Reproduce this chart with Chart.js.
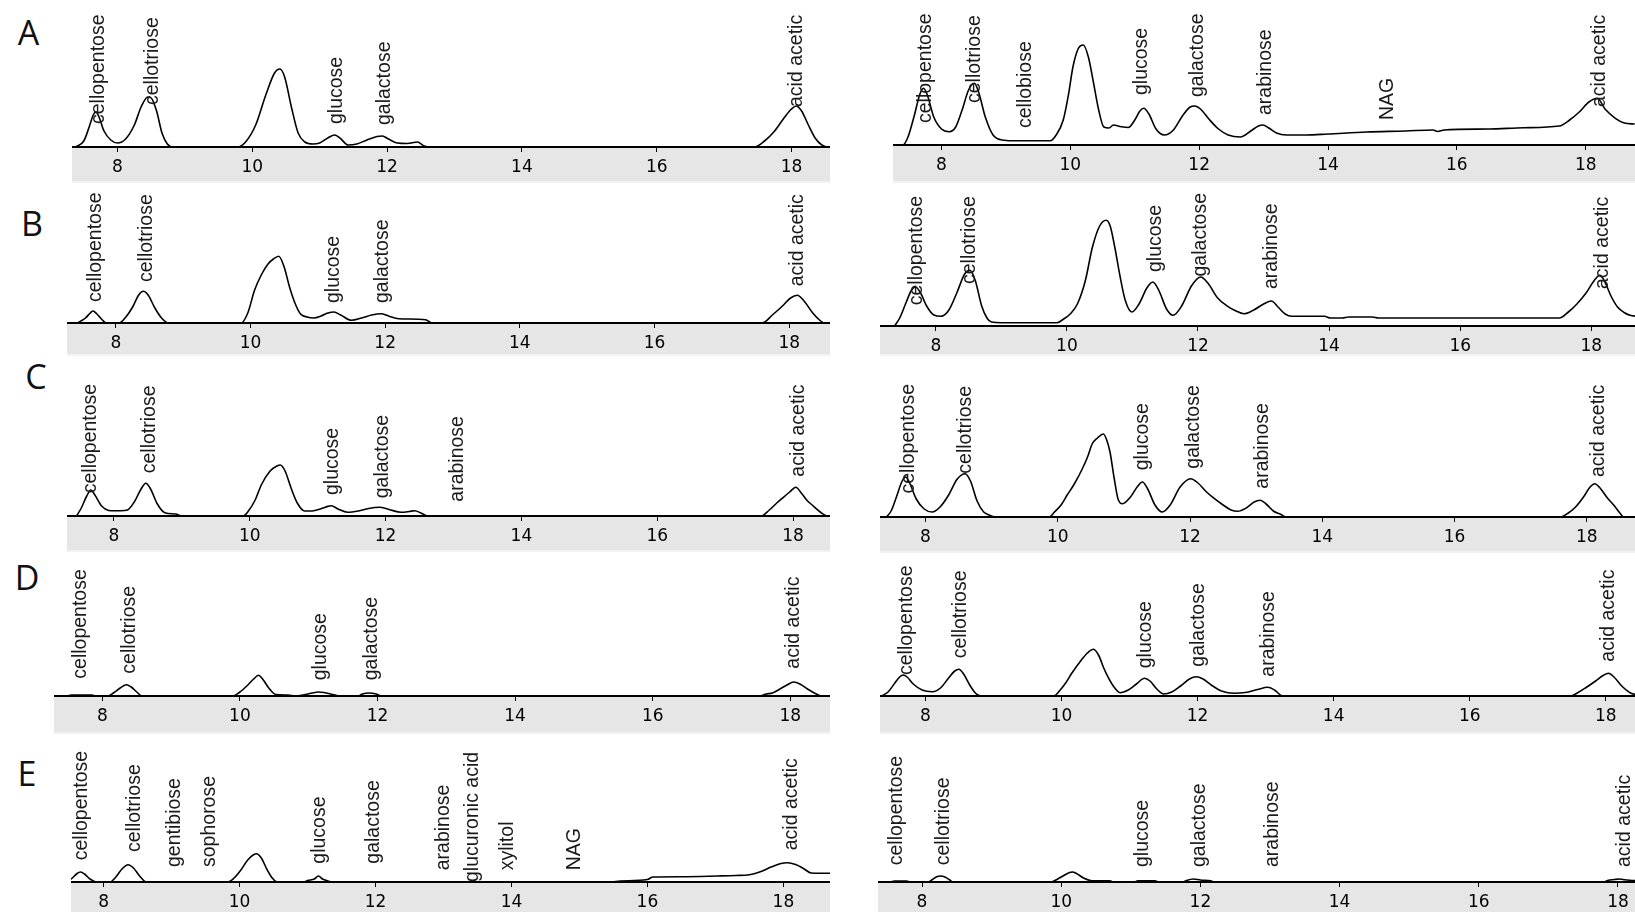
<!DOCTYPE html>
<html><head><meta charset="utf-8">
<script src="https://cdn.jsdelivr.net/npm/chart.js@4.4.1/dist/chart.umd.min.js"></script>
<style>
html,body{margin:0;padding:0;background:#fff;width:1635px;height:912px;overflow:hidden;position:relative}
canvas{position:absolute}
.letter{position:absolute;width:40px;text-align:center;font-family:"Open Sans",sans-serif;font-size:34px;line-height:34px;color:#111}
</style></head><body>
<script>
// ---------- data ----------
const xTicks = [8, 10, 12, 14, 16, 18];
const rowLetters = ['A', 'B', 'C', 'D', 'E'];

// traces: [retention time (min), signal height]
const traceA1 = [[7.38,0],[7.50,6],[7.58,20],[7.64,32],[7.68,35],[7.72,31],[7.80,16],[7.90,7],[8.00,4],[8.12,8],[8.25,22],[8.35,40],[8.45,50],[8.50,49],[8.58,36],[8.66,14],[8.74,3],[8.82,0],[9.78,0],[9.90,5],[10.05,22],[10.20,52],[10.33,74],[10.41,78],[10.48,70],[10.58,40],[10.68,14],[10.78,5],[10.90,3],[11.00,4],[11.12,9],[11.22,12],[11.30,9],[11.42,2],[11.55,3],[11.70,7],[11.85,10.5],[11.93,11],[12.02,8],[12.15,4],[12.30,3.5],[12.45,5],[12.55,1],[12.65,0],[17.45,0],[17.60,6],[17.75,16],[17.90,30],[18.00,38],[18.07,41],[18.15,36],[18.25,22],[18.35,9],[18.45,2],[18.55,0],[18.70,0]];
const traceA2 = [[7.25,0],[7.40,0],[7.48,8],[7.58,30],[7.66,50],[7.72,56.7],[7.78,50],[7.88,28],[8.00,16],[8.12,13.3],[8.22,18],[8.32,35],[8.42,55],[8.51,61.7],[8.58,52],[8.68,28],[8.80,10],[8.94,5],[9.10,4.3],[9.69,4.3],[9.78,10],[9.89,25],[9.97,50],[10.04,78],[10.12,96],[10.20,100],[10.28,88],[10.36,62],[10.44,35],[10.52,18],[10.60,17],[10.67,20],[10.79,18.3],[10.90,17.5],[11.00,25],[11.08,34],[11.14,36.7],[11.22,31],[11.33,16],[11.46,10],[11.60,15],[11.75,30],[11.86,38],[11.93,39],[12.02,36],[12.15,26],[12.30,16],[12.45,10],[12.64,8],[12.80,14],[12.92,19],[12.99,20],[13.08,17],[13.20,12],[13.35,10],[13.66,10],[14.00,11],[14.60,13],[15.20,14],[15.63,15],[15.70,13.5],[15.80,15],[16.50,16],[17.04,17.3],[17.59,19],[17.75,25],[17.90,33],[18.05,43],[18.18,46.7],[18.30,36],[18.46,26.7],[18.60,22],[18.76,21]];
const traceB1 = [[7.43,0],[7.55,5],[7.62,10],[7.66,12],[7.72,9],[7.80,3],[7.86,0],[8.05,0],[8.15,6],[8.25,16],[8.34,28],[8.41,31.7],[8.48,28],[8.58,15],[8.68,5],[8.78,0],[9.86,0],[9.96,10],[10.06,32.7],[10.16,48],[10.26,59],[10.34,64],[10.42,66.7],[10.50,56],[10.58,36],[10.66,20],[10.74,9.3],[10.84,6],[10.94,5],[11.05,7],[11.15,10],[11.24,11],[11.34,8],[11.50,2.7],[11.65,5],[11.80,8],[11.94,9.3],[12.05,7],[12.20,4.3],[12.60,3.3],[12.70,0],[17.60,0],[17.75,8],[17.90,17],[18.02,25],[18.12,27.7],[18.22,22],[18.35,10],[18.45,3],[18.52,0],[18.70,0]];
const traceB2 = [[7.37,0],[7.45,8],[7.55,24],[7.63,36],[7.69,39],[7.76,34],[7.86,20],[7.97,11],[8.08,9.7],[8.20,16],[8.32,33],[8.44,52],[8.52,55.7],[8.60,46],[8.70,20],[8.78,8],[8.85,4],[9.00,3.3],[9.85,3.3],[9.95,7],[10.05,12],[10.16,22],[10.28,45],[10.39,79],[10.50,100],[10.60,105.7],[10.66,100],[10.73,79],[10.81,50],[10.89,25.7],[10.99,14],[11.10,22],[11.22,38],[11.31,44],[11.40,36],[11.52,17],[11.62,10.7],[11.75,20],[11.90,40],[12.04,49],[12.15,43],[12.30,28],[12.43,20.7],[12.58,15],[12.70,12.3],[12.85,16],[13.00,22],[13.12,25],[13.22,19],[13.33,12],[13.43,9.7],[13.93,9.7],[14.02,8],[14.20,8],[14.30,9],[14.66,9],[14.75,8],[17.51,8],[17.65,14],[17.78,22],[17.92,33],[18.05,46],[18.13,50.7],[18.20,45],[18.30,30],[18.40,19],[18.50,13.5],[18.59,10.7],[18.75,9.5]];
const traceC1 = [[7.45,0],[7.52,8],[7.60,20],[7.66,26],[7.72,21],[7.82,10],[7.96,5.3],[8.10,5.3],[8.20,6],[8.30,14],[8.40,27],[8.47,32.7],[8.54,27],[8.64,12],[8.75,3.3],[8.91,2],[9.00,0],[9.90,0],[9.98,5],[10.08,16],[10.17,31],[10.30,45],[10.40,50],[10.45,51],[10.52,45],[10.61,27.7],[10.70,13],[10.81,5],[10.92,5],[11.04,7],[11.12,9],[11.20,10.3],[11.30,7],[11.44,3.7],[11.60,5],[11.75,7.5],[11.91,8.7],[12.05,6.5],[12.23,3.7],[12.35,4.5],[12.43,5.3],[12.52,3],[12.62,0],[17.53,0],[17.65,6],[17.76,13],[17.84,17.7],[17.95,24],[18.04,28.7],[18.12,23],[18.20,16],[18.28,11],[18.40,4],[18.51,0],[18.70,0]];
const traceC2 = [[7.41,0],[7.48,6],[7.56,20],[7.64,35],[7.70,40],[7.76,34],[7.86,18],[7.98,8],[8.10,5],[8.22,10],[8.35,22],[8.48,38],[8.60,43.3],[8.68,36],[8.78,16],[8.88,5],[8.95,2.3],[9.06,0],[9.87,0],[9.95,5],[10.05,12],[10.14,21.7],[10.25,33],[10.37,48],[10.45,60],[10.52,73],[10.60,79],[10.69,83],[10.74,77],[10.79,65],[10.85,40],[10.91,18.3],[10.98,13.3],[11.10,20],[11.20,30],[11.28,35],[11.36,28],[11.47,12],[11.58,5],[11.70,12],[11.85,30],[12.01,38.3],[12.12,34],[12.25,25],[12.37,18.3],[12.50,12],[12.62,7],[12.72,5.7],[12.85,9],[12.97,15],[13.06,16.7],[13.15,13],[13.26,6],[13.37,2.7],[13.45,0],[17.60,0],[17.72,4],[17.83,10],[17.95,20],[18.05,30],[18.12,33.3],[18.20,29],[18.30,20],[18.41,11.7],[18.50,4],[18.56,0],[18.80,0]];
const traceD1 = [[7.50,0],[7.55,1],[7.85,1],[7.90,0],[8.08,0],[8.16,3],[8.26,8],[8.35,11.3],[8.42,9],[8.50,4],[8.58,0],[9.90,0],[10.00,4],[10.10,10],[10.20,17],[10.27,20.7],[10.34,16],[10.42,8],[10.52,1.5],[10.70,1],[10.80,0],[10.95,1.5],[11.05,3],[11.14,4],[11.22,3.5],[11.35,1.5],[11.45,0],[11.72,0],[11.78,2],[11.88,3],[11.98,2],[12.06,0],[17.55,0],[17.65,2],[17.74,3],[17.85,7],[17.95,11],[18.05,14],[18.14,12],[18.25,7],[18.37,2.3],[18.45,0],[18.70,0]];
const traceD2 = [[7.35,0],[7.45,4],[7.55,13],[7.62,19],[7.67,21],[7.73,19],[7.82,12],[7.95,6],[8.10,4.3],[8.22,8],[8.34,18],[8.43,25],[8.49,26.7],[8.56,22],[8.65,11],[8.72,4],[8.77,1],[8.85,0],[9.89,0],[9.98,6],[10.06,13],[10.15,22.7],[10.28,35],[10.38,43],[10.47,46.7],[10.55,40],[10.62,28],[10.68,19.3],[10.76,10],[10.86,3.3],[10.98,6],[11.10,12],[11.22,17.7],[11.30,15],[11.40,7],[11.50,2],[11.62,4],[11.75,10],[11.88,17],[11.98,19.3],[12.08,17],[12.20,11],[12.35,5],[12.54,2.7],[12.70,3.5],[12.88,6.5],[13.03,8.7],[13.13,6],[13.25,0],[17.48,0],[17.58,3],[17.70,8],[17.85,15],[17.96,20.5],[18.04,22.7],[18.12,19],[18.22,11],[18.30,6],[18.37,2.7],[18.50,1],[18.80,0]];
const traceE1 = [[7.46,0],[7.54,4],[7.61,8.5],[7.66,10],[7.72,8],[7.80,3],[7.90,0],[8.10,0],[8.18,5],[8.27,13],[8.36,17.3],[8.44,14],[8.53,6],[8.63,0],[9.83,0],[9.92,4],[10.02,12],[10.12,22],[10.20,27],[10.25,28.3],[10.32,24],[10.40,13],[10.48,4],[10.55,0],[10.95,0],[11.00,1.5],[11.10,3],[11.16,6],[11.22,3],[11.30,1],[11.35,0],[15.45,0],[15.60,1],[16.00,2.5],[16.08,5],[16.50,5.3],[17.03,6],[17.30,6.5],[17.50,7.3],[17.65,10],[17.82,15],[17.95,18.3],[18.06,19.3],[18.18,17.5],[18.30,13.3],[18.41,9],[18.55,8.8],[18.75,8.8]];
const traceE2 = [[7.32,0],[7.55,0],[7.60,1],[7.78,1],[7.83,0],[8.09,0],[8.16,3],[8.22,5.5],[8.27,6],[8.33,5],[8.40,2],[8.44,0],[9.85,0],[9.95,3],[10.05,7],[10.12,9.5],[10.16,10],[10.22,8.5],[10.32,4],[10.42,1.5],[10.50,1.2],[10.70,1.2],[10.75,0],[11.05,0],[11.10,1.2],[11.35,1.2],[11.40,0],[11.75,0],[11.80,1.5],[11.90,3],[12.00,2],[12.15,1.2],[12.20,0],[17.80,0],[17.85,1.5],[17.95,2.5],[18.02,3],[18.10,2.2],[18.20,1.5],[18.80,1.5]];

// peak labels: names, retention times, signal level where the label starts
const namesA1 = ['cellopentose','cellotriose','glucose','galactose','acid acetic'];
const timesA1 = [7.72, 8.52, 11.25, 11.97, 18.07];
const levelsA1 = [23, 42, 23, 22, 40];
const namesA2 = ['cellopentose','cellotriose','cellobiose','glucose','galactose','arabinose','NAG','acid acetic'];
const timesA2 = [7.76, 8.51, 9.30, 11.10, 11.97, 13.03, 14.92, 18.22];
const levelsA2 = [22, 42, 17, 50, 48, 30, 25, 38];
const namesB1 = ['cellopentose','cellotriose','glucose','galactose','acid acetic'];
const timesB1 = [7.70, 8.46, 11.24, 11.96, 18.12];
const levelsB1 = [21, 41, 20, 20, 36.7];
const namesB2 = ['cellopentose','cellotriose','glucose','galactose','arabinose','acid acetic'];
const timesB2 = [7.71, 8.52, 11.35, 12.04, 13.12, 18.17];
const levelsB2 = [20.7, 42, 54, 55.7, 37, 37];
const namesC1 = ['cellopentose','cellotriose','glucose','galactose','arabinose','acid acetic'];
const timesC1 = [7.66, 8.53, 11.22, 11.95, 13.06, 18.08];
const levelsC1 = [22.7, 42.7, 21, 17.7, 14.3, 39.3];
const namesC2 = ['cellopentose','cellotriose','glucose','galactose','arabinose','acid acetic'];
const timesC2 = [7.75, 8.60, 11.29, 12.06, 13.10, 18.18];
const levelsC2 = [26.7, 43.3, 46.7, 48.3, 28.3, 40];
const namesD1 = ['cellopentose','cellotriose','glucose','galactose','acid acetic'];
const timesD1 = [7.69, 8.39, 11.17, 11.92, 18.05];
const levelsD1 = [17.3, 22.3, 15.7, 15.7, 27.3];
const namesD2 = ['cellopentose','cellotriose','glucose','galactose','arabinose','acid acetic'];
const timesD2 = [7.72, 8.51, 11.24, 12.02, 13.05, 18.04];
const levelsD2 = [21, 37.7, 27.7, 29.3, 19.3, 34.3];
const namesE1 = ['cellopentose','cellotriose','gentibiose','sophorose','glucose','galactose','arabinose','glucuronic acid','xylitol','NAG','acid acetic'];
const timesE1 = [7.68, 8.45, 9.04, 9.56, 11.18, 11.97, 13.00, 13.43, 13.94, 14.93, 18.12];
const levelsE1 = [21.7, 30, 15, 15, 18.3, 18.3, 11.7, 0, 11.7, 11.7, 31.7];
const namesE2 = ['cellopentose','cellotriose','glucose','galactose','arabinose','acid acetic'];
const timesE2 = [7.63, 8.31, 11.17, 11.99, 13.04, 18.10];
const levelsE2 = [16.7, 16.7, 15, 15, 15, 15];

// ---------- layout (page pixels) ----------
const ABOVE = 150;          // canvas height above the baseline
const REACH = 133;          // highest a label may reach above the baseline
const panels = [
  {trace: traceA1, names: namesA1, times: timesA1, levels: levelsA1, left: 72,  right: 830,  t8: 117.5, t18: 791.5,  base: 146.7, band: 36},
  {trace: traceA2, names: namesA2, times: timesA2, levels: levelsA2, left: 893, right: 1635, t8: 941.5, t18: 1585.7, base: 145.0, band: 38},
  {trace: traceB1, names: namesB1, times: timesB1, levels: levelsB1, left: 67,  right: 830,  t8: 115.8, t18: 789.2,  base: 322.7, band: 33},
  {trace: traceB2, names: namesB2, times: timesB2, levels: levelsB2, left: 880, right: 1635, t8: 935.8, t18: 1591.3, base: 325.7, band: 30},
  {trace: traceC1, names: namesC1, times: timesC1, levels: levelsC1, left: 67,  right: 830,  t8: 113.9, t18: 793.1,  base: 516.0, band: 36},
  {trace: traceC2, names: namesC2, times: timesC2, levels: levelsC2, left: 880, right: 1635, t8: 925.5, t18: 1586.8, base: 516.7, band: 36},
  {trace: traceD1, names: namesD1, times: timesD1, levels: levelsD1, left: 54,  right: 830,  t8: 102.3, t18: 790.3,  base: 695.7, band: 38},
  {trace: traceD2, names: namesD2, times: timesD2, levels: levelsD2, left: 880, right: 1635, t8: 925.5, t18: 1605.8, base: 696.0, band: 38},
  {trace: traceE1, names: namesE1, times: timesE1, levels: levelsE1, left: 71,  right: 830,  t8: 103.6, t18: 783.4,  base: 881.7, band: 32},
  {trace: traceE2, names: namesE2, times: timesE2, levels: levelsE2, left: 878, right: 1635, t8: 922.0, t18: 1618.0, base: 881.7, band: 32}
];
const letterPos = [[28.5, 33], [32, 224], [36, 377], [27, 578], [27, 774]];

rowLetters.forEach((L, i) => {
  const d = document.createElement('div');
  d.className = 'letter';
  d.textContent = L;
  d.style.left = (letterPos[i][0] - 20) + 'px';
  d.style.top = (letterPos[i][1] - 18) + 'px';
  document.body.appendChild(d);
});

const bandPlugin = {
  id: 'band',
  beforeDraw(chart) {
    const {ctx, chartArea, width, height} = chart;
    ctx.save();
    ctx.fillStyle = '#e6e6e6';
    ctx.fillRect(0, chartArea.bottom + 1, width, height - chartArea.bottom - 1);
    ctx.fillStyle = '#f2f2f2';
    ctx.fillRect(0, height - 2, width, 2);
    ctx.restore();
  }
};

function makeLabelPlugin(p) {
  return {
    id: 'peakLabels',
    afterDatasetsDraw(chart) {
      const {ctx, chartArea, scales} = chart;
      ctx.save();
      ctx.font = '19.5px "Liberation Sans", Arial, sans-serif';
      ctx.fillStyle = '#1a1a1a';
      ctx.textAlign = 'left';
      ctx.textBaseline = 'middle';
      p.names.forEach((name, i) => {
        const px = scales.x.getPixelForValue(p.times[i]);
        let py = scales.y.getPixelForValue(p.levels[i]);
        const w = ctx.measureText(name).width;
        const minTop = chartArea.bottom - REACH;
        if (py - w < minTop) py = minTop + w;
        ctx.save();
        ctx.translate(px, py);
        ctx.rotate(-Math.PI / 2);
        ctx.fillText(name, 0, 0);
        ctx.restore();
      });
      ctx.restore();
    }
  };
}

panels.forEach(p => {
  const cv = document.createElement('canvas');
  const w = Math.round(p.right - p.left);
  const h = ABOVE + p.band;
  cv.width = w; cv.height = h;
  cv.style.width = w + 'px'; cv.style.height = h + 'px';
  cv.style.left = Math.round(p.left) + 'px';
  cv.style.top = Math.round(p.base - ABOVE) + 'px';
  document.body.appendChild(cv);
  const ppu = (p.t18 - p.t8) / 10;
  const xmin = 8 - (p.t8 - Math.round(p.left)) / ppu;
  const xmax = 18 + (Math.round(p.left) + w - p.t18) / ppu;
  new Chart(cv, {
    type: 'line',
    data: {
      datasets: [{
        data: p.trace.map(([x, y]) => ({x, y})),
        borderColor: '#000',
        borderWidth: 1.6,
        pointRadius: 0,
        fill: false,
        cubicInterpolationMode: 'monotone',
        clip: 6
      }]
    },
    options: {
      responsive: false,
      animation: false,
      devicePixelRatio: 1,
      layout: {padding: 0},
      events: [],
      plugins: {legend: {display: false}, tooltip: {enabled: false}},
      scales: {
        x: {
          type: 'linear',
          min: xmin,
          max: xmax,
          afterBuildTicks: s => { s.ticks = xTicks.map(v => ({value: v})); },
          afterFit: s => { s.height = p.band; },
          border: {display: true, color: '#000', width: 2},
          grid: {display: true, drawOnChartArea: false, drawTicks: true, tickLength: 5, tickColor: '#000', tickWidth: 1},
          ticks: {
            padding: 5,
            color: '#000',
            font: {family: '"DejaVu Sans", sans-serif', size: 17},
            maxRotation: 0,
            autoSkip: false,
            callback: v => String(v)
          }
        },
        y: {type: 'linear', display: false, min: 0, max: ABOVE}
      }
    },
    plugins: [bandPlugin, makeLabelPlugin(p)]
  });
});
</script>
</body></html>
